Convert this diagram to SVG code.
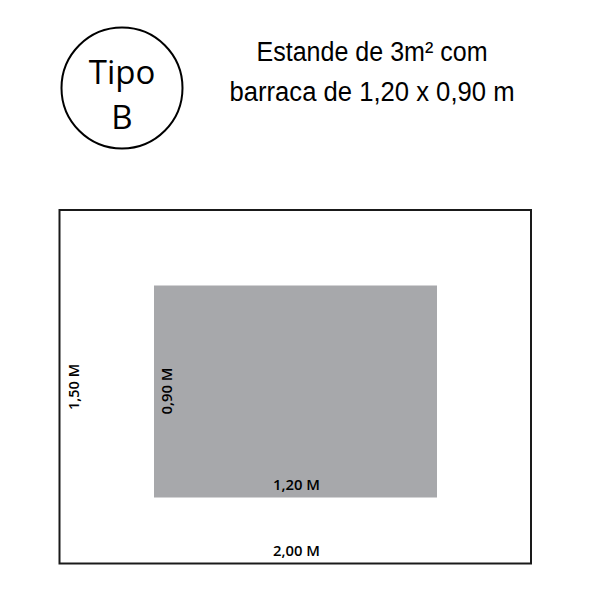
<svg xmlns="http://www.w3.org/2000/svg" width="591" height="591" viewBox="0 0 591 591">
<style>
.lbl{font-family:"Open Sans","Noto Sans",sans-serif;font-size:14px;font-weight:600;fill:#000}
.big{font-family:"Open Sans","Noto Sans",sans-serif;font-size:33px;fill:#000}
.ttl{font-family:"Liberation Sans",Arial,sans-serif;font-size:27px;fill:#000}
</style>
<rect width="591" height="591" fill="#fff"/>
<g id="badge">
<circle cx="122" cy="88" r="60.5" fill="none" stroke="#000" stroke-width="2"/>
<text class="big" x="122" y="84" text-anchor="middle">Tipo</text>
<text class="big" x="122" y="129" text-anchor="middle">B</text>
</g>
<g id="title">
<text class="ttl" x="372" y="61" text-anchor="middle" textLength="231" lengthAdjust="spacingAndGlyphs">Estande de 3m² com</text>
<text class="ttl" x="372" y="101" text-anchor="middle" textLength="285" lengthAdjust="spacingAndGlyphs">barraca de 1,20 x 0,90 m</text>
</g>
<g id="stand">
<rect x="59.5" y="210" width="471.5" height="353.5" fill="none" stroke="#1a1a1a" stroke-width="2"/>
<text class="lbl" x="296.5" y="556" text-anchor="middle" textLength="47" lengthAdjust="spacingAndGlyphs">2,00 M</text>
<text class="lbl" transform="translate(79,387) rotate(-90)" text-anchor="middle" textLength="46" lengthAdjust="spacingAndGlyphs">1,50 M</text>
</g>
<g id="barraca">
<rect x="154" y="285.5" width="283" height="212" fill="#a7a8ab"/>
<text class="lbl" x="296.5" y="490" text-anchor="middle" textLength="47" lengthAdjust="spacingAndGlyphs">1,20 M</text>
<text class="lbl" transform="translate(172,391) rotate(-90)" text-anchor="middle" textLength="47" lengthAdjust="spacingAndGlyphs">0,90 M</text>
</g>
</svg>
